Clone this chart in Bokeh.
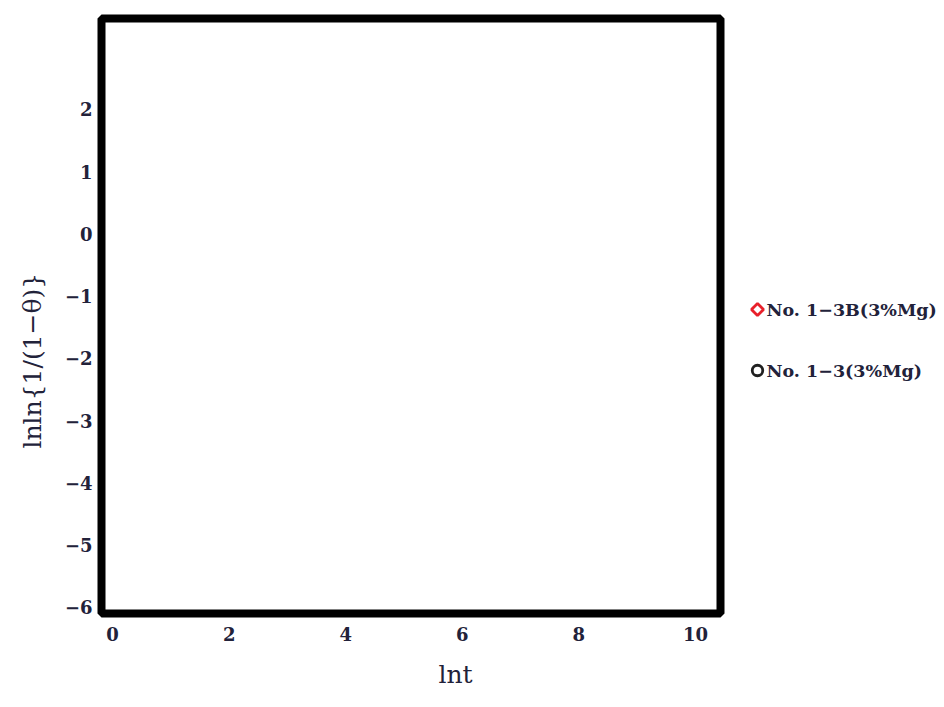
import math
from bokeh.plotting import figure
from bokeh.layouts import row
from bokeh.models import Range1d, FixedTicker, Title
from bokeh.core.properties import value
from bokeh.embed import file_html
from bokeh.resources import INLINE

# Data (no points are visible in the reference)
series_names = ["No. 1\u22123B(3%Mg)", "No. 1\u22123(3%Mg)"]
series_markers = ["square", "circle"]
series_angles = [math.pi / 4, 0]
series_colors = ["#e8202a", "#202020"]
series1_x = []
series1_y = []
series2_x = []
series2_y = []

x_ticks = [0, 2, 4, 6, 8, 10]
y_ticks = [-6, -5, -4, -3, -2, -1, 0, 1, 2]
x_label = "lnt"
y_label = "lnln{1/(1\u2212\u03b8)}"

FONT = "DejaVu Serif"
TXT = "#22223a"
W_MAIN, H = 730, 707
TOP, BOTTOM, LEFT, RIGHT = 18, 94, 101, 10

p = figure(width=W_MAIN, height=H, output_backend="svg", toolbar_location=None,
           x_range=Range1d(-0.19, 10.43), y_range=Range1d(-6.1, 3.46),
           min_border_left=LEFT, min_border_right=RIGHT, min_border_top=TOP,
           min_border_bottom=BOTTOM)
p.grid.visible = False
p.outline_line_color = "black"
p.outline_line_width = 8
p.background_fill_color = "white"
p.border_fill_color = "white"

for ax, ticks in ((p.xaxis, x_ticks), (p.yaxis, y_ticks)):
    ax.ticker = FixedTicker(ticks=ticks)
    ax.axis_line_color = None
    ax.major_tick_line_color = None
    ax.minor_tick_line_color = None
    ax.major_tick_out = 0
    ax.major_tick_in = 0
    ax.minor_tick_out = 0
    ax.major_label_text_font = FONT
    ax.major_label_text_font_size = "18px"
    ax.major_label_text_font_style = "bold"
    ax.major_label_text_color = TXT

p.xaxis.major_label_standoff = 13
p.yaxis.major_label_standoff = 9

xt = Title(text=x_label, align="left", offset=337, standoff=29,
           text_font=FONT, text_font_size="25px", text_font_style="normal",
           text_color=TXT)
p.add_layout(xt, "below")
yt = Title(text=y_label, align="left", offset=165, standoff=30,
           text_font=FONT, text_font_size="25px", text_font_style="normal",
           text_color=TXT)
p.add_layout(yt, "left")

p.scatter(series1_x, series1_y, marker=series_markers[0], angle=series_angles[0], size=8,
          fill_color="white", line_color=series_colors[0], line_width=2.5)
p.scatter(series2_x, series2_y, marker=series_markers[1], size=10, fill_color="white",
          line_color=series_colors[1], line_width=2.5)

# Legend panel: coordinates are pixels measured from the page top-left
LW = 206
leg = figure(width=LW, height=H, output_backend="svg", toolbar_location=None,
             x_range=Range1d(0, LW), y_range=Range1d(H - BOTTOM, TOP),
             min_border=0, min_border_left=0, min_border_right=0,
             min_border_top=TOP, min_border_bottom=BOTTOM)
leg.axis.visible = False
leg.grid.visible = False
leg.outline_line_color = None
leg.background_fill_color = "white"
leg.border_fill_color = "white"

leg_x = [27, 27]
leg_y = [309, 370]
leg_sizes = [8.5, 10.5]
for i in range(2):
    leg.scatter([leg_x[i]], [leg_y[i]], marker=series_markers[i], angle=series_angles[i],
                size=leg_sizes[i], fill_color="white", line_color=series_colors[i],
                line_width=2.8)
leg.text(x=[lx + 9 for lx in leg_x], y=leg_y, text=series_names,
         text_font=value(FONT), text_font_size="17.5px", text_font_style="bold",
         text_color=TXT, text_baseline="middle", text_align="left")

layout = row(p, leg)
open("out.html", "w").write(file_html(layout, INLINE))
